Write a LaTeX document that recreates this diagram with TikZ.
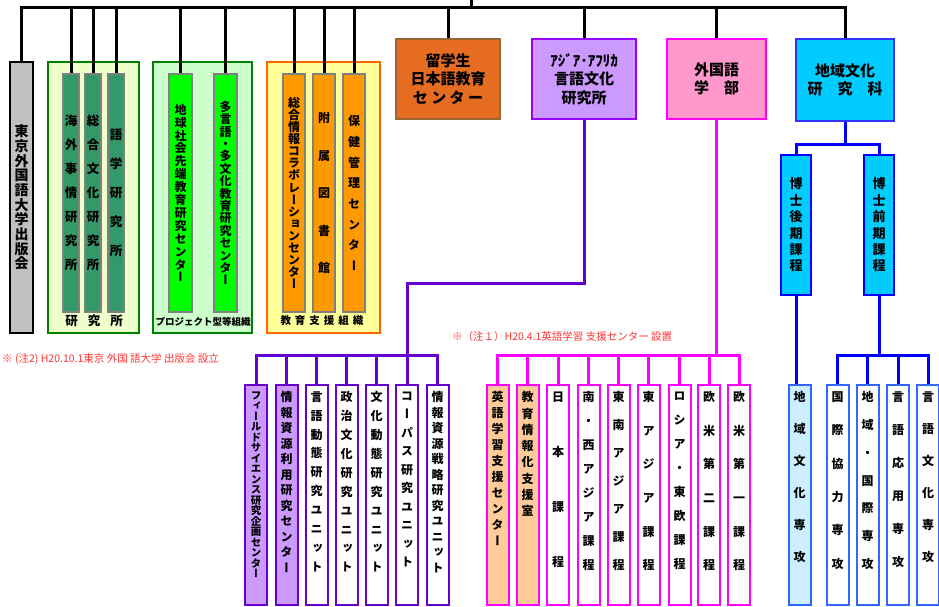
\documentclass[tikz,border=0pt]{standalone}
\usepackage{fontspec}
\setmainfont{Noto Sans CJK JP}
\newfontfamily\tatefont{Noto Sans CJK JP}[RawFeature=+vert]
\usetikzlibrary{calc}
\usetikzlibrary{positioning}

\definecolor{pubgray}{HTML}{C0C0C0}
\definecolor{grpgreen}{HTML}{008000}
\definecolor{kenbg}{HTML}{EEFFCC}
\definecolor{kengreen}{HTML}{339966}
\definecolor{projbg}{HTML}{CCFFCC}
\definecolor{projgreen}{HTML}{00FF00}
\definecolor{shienbg}{HTML}{FFFF99}
\definecolor{shienline}{HTML}{FF6600}
\definecolor{shienorange}{HTML}{FF9900}
\definecolor{ryuufill}{HTML}{E66C22}
\definecolor{ryuuline}{HTML}{996633}
\definecolor{ilcfill}{HTML}{CC99FF}
\definecolor{ilcline}{HTML}{9900FF}
\definecolor{ilcpath}{HTML}{6600CC}
\definecolor{gaifill}{HTML}{FF99CC}
\definecolor{gailine}{HTML}{FF00FF}
\definecolor{unitorange}{HTML}{FFCC99}
\definecolor{chiikifill}{HTML}{00CCFF}
\definecolor{chiikiline}{HTML}{3333FF}
\definecolor{senkoline}{HTML}{3366FF}
\definecolor{senkofill}{HTML}{CCEFFF}
\definecolor{notered}{HTML}{FF3333}

% stack the characters of #2 one under the other, #1 = pitch in pt
\def\tatefirst#1{#1\taterest}
\def\taterest#1{\ifx#1\relax\else\par#1\expandafter\taterest\fi}
\newcommand\tate[2]{\parbox{1em}{\centering\tatefont\bfseries
  \lineskiplimit=-100pt\parskip=0pt\baselineskip=#1pt\relax\expandafter\tatefirst#2\relax}}
\newcommand\tatetop[2]{\parbox[c][220pt][t]{1em}{\centering\tatefont\bfseries
  \lineskiplimit=-100pt\parskip=0pt\baselineskip=#1pt\relax\vspace*{6.5pt}\expandafter\tatefirst#2\relax}}

\begin{document}
\begin{tikzpicture}[x=1pt, y=-1pt,
    trunk/.style={line width=3pt},
    pline/.style={line width=3pt, ilcpath},
    mline/.style={line width=3pt, gailine},
    bline/.style={line width=3pt, blue},
    grp/.style={draw=grpgreen, line width=2pt, inner sep=0pt, minimum height=271pt},
    colbox/.style={draw=gray, line width=2pt, inner sep=0pt, minimum height=238pt, font=\fontsize{12}{12}\selectfont},
    headbox/.style={draw, line width=2pt, minimum width=#1, minimum height=80pt, align=center, font=\bfseries\fontsize{15}{18.5}\selectfont},
    unitbox/.style={draw, line width=2pt, inner sep=0pt, minimum width=22pt, minimum height=220pt},
    grplabel/.style={font=\bfseries\fontsize{#1}{#1}\selectfont, inner sep=0pt},
    remark/.style={text=notered, inner sep=0pt, anchor=west, font=\fontsize{10.5}{10.5}\selectfont}]
  \useasboundingbox (0,0) rectangle (939,606);

  % Publisher and the three groups on the left
  \node[draw, line width=2.5pt, fill=pubgray, inner sep=0pt, minimum width=23pt, minimum height=271pt, font=\fontsize{14}{14}\selectfont] (pub) at (21.5,197.5) {\tate{14.7}{東京外国語大学出版会}};

  \node[grp, fill=kenbg, minimum width=91pt] (ken) at (93.5,197.5) {};
  \node[colbox, fill=kengreen, minimum width=16pt, font=\fontsize{12.5}{12.5}\selectfont] (kaigai) at (71,193) {\tate{24}{海外事情研究所}};
  \node[colbox, fill=kengreen, minimum width=16pt, font=\fontsize{12.5}{12.5}\selectfont] (sougou) at (93,193) {\tate{24}{総合文化研究所}};
  \node[colbox, fill=kengreen, minimum width=16pt, font=\fontsize{12.5}{12.5}\selectfont] (gogaku) at (116,193) {\tate{29}{語学研究所}};
  \node[grplabel=12.5] (kenlbl) at (94,321) {研\hspace{10pt}究\hspace{10pt}所};

  \node[grp, fill=projbg, minimum width=99pt] (proj) at (202.5,197.5) {};
  \node[colbox, fill=projgreen, minimum width=23pt] (chikyu) at (180.5,193) {\tate{12.9}{地球社会先端教育研究センター}};
  \node[colbox, fill=projgreen, minimum width=23pt] (tagengo) at (225.5,193) {\tate{12.4}{多言語・多文化教育研究センター}};
  \node[grplabel=9.5] (projlbl) at (203,322) {プロジェクト型等組織};

  \node[grp, draw=shienline, fill=shienbg, minimum width=113pt] (shien) at (323.5,197.5) {};
  \node[colbox, fill=shienorange, minimum width=22pt] (collab) at (294,193) {\tate{12.1}{総合情報コラボレーションセンター}};
  \node[colbox, fill=shienorange, minimum width=22pt] (fuzoku) at (324,193) {\tate{37.5}{附属図書館}};
  \node[colbox, fill=shienorange, minimum width=22pt] (hoken) at (354,193) {\tate{20.7}{保健管理センター}};
  \node[grplabel=10.5] (shienlbl) at (322,321) {教\hspace{4pt}育\hspace{4pt}支\hspace{4pt}援\hspace{4pt}組\hspace{4pt}織};

  % The four big boxes
  \node[headbox=104pt, draw=ryuuline, fill=ryuufill] (ryuu) at (448,79) {留学生\\日本語教育\\セ ン タ ー};
  \node[headbox=104pt, draw=ilcline, fill=ilcfill] (ilc) at (584,79) {ｱｼﾞｱ･ｱﾌﾘｶ\\言語文化\\研究所};
  \node[headbox=99pt, draw=gailine, fill=gaifill] (gai) at (716.5,79) {外国語\\学　部};
  \node[headbox=98pt, draw=chiikiline, fill=chiikifill, minimum height=82pt] (chiiki) at (845,80) {地域文化\\研　究　科};

  \node[draw=blue, line width=2pt, fill=chiikifill, inner sep=0pt, minimum width=30pt, minimum height=140pt, font=\fontsize{13}{13}\selectfont] (dk) at (796,225) {\tate{16.4}{博士後期課程}};
  \node[draw=blue, line width=2pt, fill=chiikifill, inner sep=0pt, minimum width=30pt, minimum height=140pt, font=\fontsize{13}{13}\selectfont] (mk) at (879,225) {\tate{16.4}{博士前期課程}};

  % Bottom rows: name/x/pitch/size/fill/text
  \foreach \nm/\xc/\sk/\sz/\fc/\txt in {u1/256/10.5/10.5/ilcfill/フィールドサイエンス研究企画センター,
      u2/286.5/15.5/12/ilcfill/情報資源利用研究センター, u3/316.5/18.9/12/white/言語動態研究ユニット,
      u4/346.5/18.9/12/white/政治文化研究ユニット, u5/376.5/18.9/12/white/文化動態研究ユニット,
      u6/407/18.5/12/white/コーパス研究ユニット, u7/437.5/15.5/12/white/情報資源戦略研究ユニット}
    \node[unitbox, draw=ilcpath, fill=\fc, font=\fontsize{\sz}{\sz}\selectfont] (\nm) at (\xc,495) {\tatetop{\sk}{\txt}};

  \foreach \nm/\xc/\sk/\fc/\txt in {g1/497.5/16/unitorange/英語学習支援センター,
      g2/527.5/16.3/unitorange/教育情報化支援室, g3/558/55/white/日本課程,
      g4/588.5/24/white/南・西アジア課程, g5/618.5/28/white/東南アジア課程,
      g6/648.5/33.6/white/東アジア課程, g7/679.5/24/white/ロシア・東欧課程,
      g8/709/33.6/white/欧米第二課程, g9/739/33.6/white/欧米第一課程}
    \node[unitbox, draw=gailine, fill=\fc, font=\fontsize{12}{12}\selectfont] (\nm) at (\xc,495) {\tatetop{\sk}{\txt}};

  \foreach \nm/\xc/\sk/\fc/\txt in {s1/799.5/32/senkofill/地域文化専攻,
      s2/837.5/33.4/white/国際協力専攻, s3/867.5/27.8/white/地域・国際専攻,
      s4/898/33/white/言語応用専攻, s5/928/32/white/言語文化専攻}
    \node[unitbox, draw=senkoline, fill=\fc, font=\fontsize{12}{12}\selectfont] (\nm) at (\xc,495) {\tatetop{\sk}{\txt}};

  % Black trunk along the top
  \coordinate (root) at (471,0);
  \coordinate (bar) at (0,7);
  \draw[trunk] (pub.north) -- (pub.north |- bar) -- (chiiki.north |- bar) -- (chiiki.north);
  \draw[trunk] (root) -- (root |- bar);
  \foreach \n in {kaigai,sougou,gogaku,chikyu,tagengo,collab,fuzoku,hoken,ryuu,ilc,gai}
    \draw[trunk] (\n.north) -- (\n.north |- bar);

  % Research institute
  \coordinate (pbar) at (0,355);
  \draw[pline] (ilc.south) -- ++(0,163) -| (u6.north);
  \draw[pline] (u1.north) -- (u1.north |- pbar) -- (u7.north |- pbar) -- (u7.north);
  \foreach \n in {u2,u3,u4,u5}
    \draw[pline] (\n.north) -- (\n.north |- pbar);

  % Faculty
  \coordinate (mbar) at (0,355);
  \draw[mline] (gai.south) -- (gai.south |- mbar);
  \draw[mline] (g1.north) -- (g1.north |- mbar) -- (g9.north |- mbar) -- (g9.north);
  \foreach \n in {g2,g3,g4,g5,g6,g7,g8}
    \draw[mline] (\n.north) -- (\n.north |- mbar);

  % Graduate school
  \coordinate (bfork) at ($(chiiki.south)+(0,22)$);
  \coordinate (sbar) at (0,355);
  \draw[bline] (chiiki.south) -- (bfork);
  \draw[bline] (dk.north) |- (bfork) -| (mk.north);
  \draw[bline] (dk.south) -- (dk.south |- s1.north);
  \draw[bline] (mk.south) -- (mk.south |- sbar);
  \draw[bline] (s2.north) -- (s2.north |- sbar) -- (s5.north |- sbar) -- (s5.north);
  \foreach \n in {s3,s4}
    \draw[bline] (\n.north) -- (\n.north |- sbar);

  % Notes
  \node[remark] (note2) at (2,359) {※ (注2) H20.10.1東京 外国 語大学 出版会 設立};
  \node[remark] (note1) at (452,337) {※（注１）H20.4.1英語学習 支援センター 設置};
\end{tikzpicture}
\end{document}
